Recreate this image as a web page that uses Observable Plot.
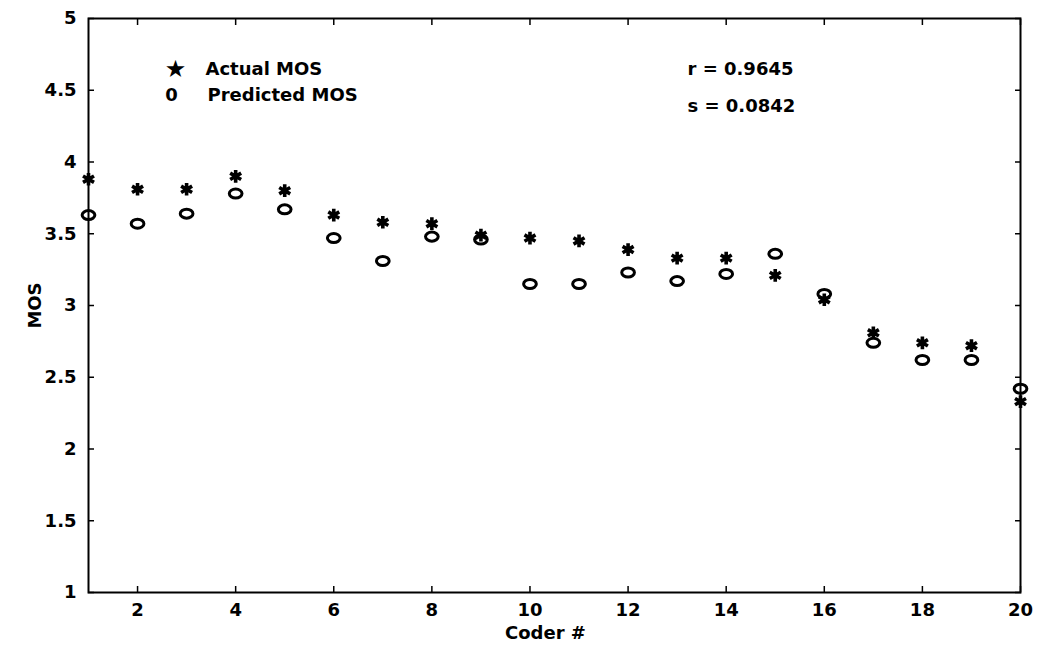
<!DOCTYPE html>
<html>
<head>
<meta charset="utf-8">
<script src="https://cdn.jsdelivr.net/npm/d3@7"></script>
<script src="https://cdn.jsdelivr.net/npm/@observablehq/plot@0.6"></script>
<style>
  html, body { margin: 0; padding: 0; background: #fff; }
  svg { display: block; }
  g[aria-label="xlabel"] text { letter-spacing: 2.5px; }
</style>
</head>
<body>
<div id="chart"></div>
<script>
// ---- data ----
const coders    = [1, 2, 3, 4, 5, 6, 7, 8, 9, 10, 11, 12, 13, 14, 15, 16, 17, 18, 19, 20];
const actual    = [3.88, 3.81, 3.81, 3.90, 3.80, 3.63, 3.58, 3.57, 3.49, 3.47, 3.45, 3.39, 3.33, 3.33, 3.21, 3.04, 2.81, 2.74, 2.72, 2.33];
const predicted = [3.63, 3.57, 3.64, 3.78, 3.67, 3.47, 3.31, 3.48, 3.46, 3.15, 3.15, 3.23, 3.17, 3.22, 3.36, 3.08, 2.74, 2.62, 2.62, 2.42];
const xTicks    = [2, 4, 6, 8, 10, 12, 14, 16, 18, 20];
const yTicks    = [1, 1.5, 2, 2.5, 3, 3.5, 4, 4.5, 5];
const seriesNames = ["Actual MOS", "Predicted MOS"];
const statLabels  = ["r = 0.9645", "s = 0.0842"];
const xLabel = "Coder #";
const yLabel = "MOS";

const actualData = coders.map((c, i) => ({coder: c, mos: actual[i]}));
const predData   = coders.map((c, i) => ({coder: c, mos: predicted[i]}));

// flattened ellipse symbol (like the scanned "o" markers)
const ellipse = {
  draw(ctx, size) {
    const r = Math.sqrt(size / Math.PI);
    const rx = r * 1.2, ry = r * 0.85, k = 0.5523;
    ctx.moveTo(rx, 0);
    ctx.bezierCurveTo(rx, ry * k, rx * k, ry, 0, ry);
    ctx.bezierCurveTo(-rx * k, ry, -rx, ry * k, -rx, 0);
    ctx.bezierCurveTo(-rx, -ry * k, -rx * k, -ry, 0, -ry);
    ctx.bezierCurveTo(rx * k, -ry, rx, -ry * k, rx, 0);
    ctx.closePath();
  }
};

const FS = 18;
const chart = Plot.plot({
  width: 1039,
  height: 647,
  marginLeft: 88,
  marginRight: 19,
  marginTop: 18,
  marginBottom: 55,
  style: {fontFamily: "'DejaVu Sans', sans-serif", fontWeight: "bold", fontSize: FS + "px", background: "white", color: "black"},
  x: {domain: [1, 20]},
  y: {domain: [1, 5]},
  marks: [
    Plot.frame({stroke: "black", strokeWidth: 2}),
    // inward ticks on all four sides
    Plot.axisY(yTicks, {anchor: "left", tickSize: 6, dx: 6, fill: "none", strokeWidth: 1.5, label: null}),
    Plot.axisY(yTicks, {anchor: "right", tickSize: 6, dx: -6, fill: "none", strokeWidth: 1.5, label: null}),
    Plot.axisX(xTicks, {anchor: "bottom", tickSize: 6, dy: -6, fill: "none", strokeWidth: 1.5, label: null}),
    Plot.axisX(xTicks, {anchor: "top", tickSize: 6, dy: 6, fill: "none", strokeWidth: 1.5, label: null}),
    // tick labels + y title
    Plot.axisY(yTicks, {anchor: "left", tickSize: 0, tickPadding: 12, fontSize: FS, fontWeight: "bold",
      tickFormat: d => String(d), label: yLabel, labelAnchor: "center", labelArrow: "none", labelOffset: 60}),
    Plot.axisX(xTicks, {anchor: "bottom", tickSize: 0, tickPadding: 11, fontSize: FS, fontWeight: "bold",
      tickFormat: d => String(d), label: null}),
    // x title
    Plot.text([xLabel], {frameAnchor: "bottom", dx: -9, dy: 41, text: d => d, fontSize: FS, fontWeight: "bold",
      lineAnchor: "middle", ariaLabel: "xlabel"}),
    // data
    Plot.dot(actualData, {x: "coder", y: "mos", symbol: "asterisk", r: 6, stroke: "black", strokeWidth: 3.6}),
    Plot.dot(predData, {x: "coder", y: "mos", symbol: ellipse, r: 5.3, stroke: "black", strokeWidth: 3, fill: "none"}),
    // legend
    Plot.text(["★"], {frameAnchor: "top-left", dx: 87, dy: 51, text: d => d, fontSize: 24, textAnchor: "middle", lineAnchor: "middle"}),
    Plot.text([seriesNames[0]], {frameAnchor: "top-left", dx: 117, dy: 51, text: d => d, fontSize: FS, fontWeight: "bold", textAnchor: "start", lineAnchor: "middle"}),
    Plot.text(["0"], {frameAnchor: "top-left", dx: 83, dy: 77, text: d => d, fontSize: FS, fontWeight: "bold", textAnchor: "middle", lineAnchor: "middle"}),
    Plot.text([seriesNames[1]], {frameAnchor: "top-left", dx: 119, dy: 77, text: d => d, fontSize: FS, fontWeight: "bold", textAnchor: "start", lineAnchor: "middle"}),
    Plot.text([statLabels[0]], {frameAnchor: "top-left", dx: 599, dy: 51, text: d => d, fontSize: FS, fontWeight: "bold", textAnchor: "start", lineAnchor: "middle"}),
    Plot.text([statLabels[1]], {frameAnchor: "top-left", dx: 599, dy: 88, text: d => d, fontSize: FS, fontWeight: "bold", textAnchor: "start", lineAnchor: "middle"})
  ]
});
document.getElementById("chart").appendChild(chart);
</script>
</body>
</html>
